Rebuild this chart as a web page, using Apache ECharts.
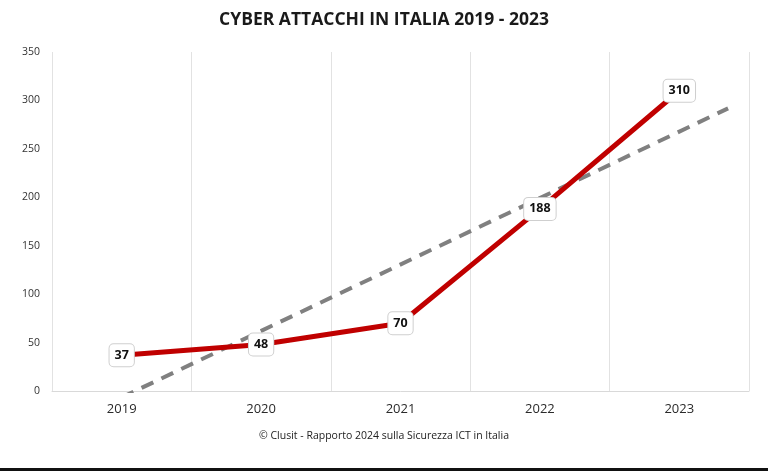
<!DOCTYPE html>
<html><head><meta charset="utf-8">
<script src="https://cdn.jsdelivr.net/npm/echarts@6/dist/echarts.min.js"></script>
<style>html,body{margin:0;padding:0;background:#fff}#c{width:768px;height:471px}</style>
</head><body><div id="c"></div>
<script>
const categories = ['2019', '2020', '2021', '2022', '2023'];
const attacks = [37, 48, 70, 188, 310];
const yTicks = { min: 0, max: 350, interval: 50 };
const trendExtent = [0, 4.35];

// linear trend (least squares) computed from the data
const n = attacks.length;
const mx = (n - 1) / 2;
const my = attacks.reduce((a, b) => a + b, 0) / n;
let sxy = 0, sxx = 0;
attacks.forEach((v, i) => { sxy += (i - mx) * (v - my); sxx += (i - mx) * (i - mx); });
const slope = sxy / sxx, icpt = my - slope * mx;
const trend = trendExtent.map(x => [x, icpt + slope * x]);

const chart = echarts.init(document.getElementById('c'));
chart.setOption({
  animation: false,
  backgroundColor: '#fff',
  title: {
    text: 'CYBER ATTACCHI IN ITALIA 2019 - 2023',
    left: 'center', top: 6,
    textStyle: { fontFamily: 'Open Sans', fontWeight: 'bold', fontSize: 17.5, color: '#1a1a1a' }
  },
  graphic: [
    { type: 'text', left: 'center', top: 431,
      style: { text: '© Clusit - Rapporto 2024 sulla Sicurezza ICT in Italia', fontFamily: 'Open Sans', fontSize: 10.5, fill: '#222' } },
    { type: 'rect', left: 0, top: 468, shape: { width: 768, height: 3 }, style: { fill: '#111' } }
  ],
  grid: { left: 52, right: 19, top: 52, bottom: 80 },
  xAxis: [
    { type: 'category', data: categories,
      axisLine: { lineStyle: { color: '#d9d9d9' } },
      axisTick: { show: false },
      axisLabel: { color: '#2a2a2a', fontFamily: 'Open Sans', fontSize: 13, margin: 12 },
      splitLine: { show: true, interval: 0, lineStyle: { color: '#e2e2e2' } } },
    { type: 'value', min: -0.5, max: 4.5, show: false }
  ],
  yAxis: {
    type: 'value', min: yTicks.min, max: yTicks.max, interval: yTicks.interval,
    axisLine: { show: false }, axisTick: { show: false },
    axisLabel: { color: '#333', fontFamily: 'Open Sans', fontSize: 10.5, margin: 12 },
    splitLine: { show: false }
  },
  series: [
    { type: 'line', xAxisIndex: 1, data: trend, symbol: 'none', silent: true, z: 2,
      lineStyle: { color: '#808080', width: 4, type: [13, 9] } },
    { type: 'line', xAxisIndex: 0, data: attacks, symbol: 'circle', symbolSize: 2, showSymbol: true, z: 3,
      itemStyle: { color: '#c00000' },
      lineStyle: { color: '#c00000', width: 5 },
      label: { show: true, position: 'inside', color: '#111', fontWeight: 'bold', fontFamily: 'Open Sans', fontSize: 12.5,
        backgroundColor: '#fff', borderColor: '#cfcfcf', borderWidth: 1, borderRadius: 4, padding: [5, 5, 4, 5] } }
  ]
});
</script></body></html>
